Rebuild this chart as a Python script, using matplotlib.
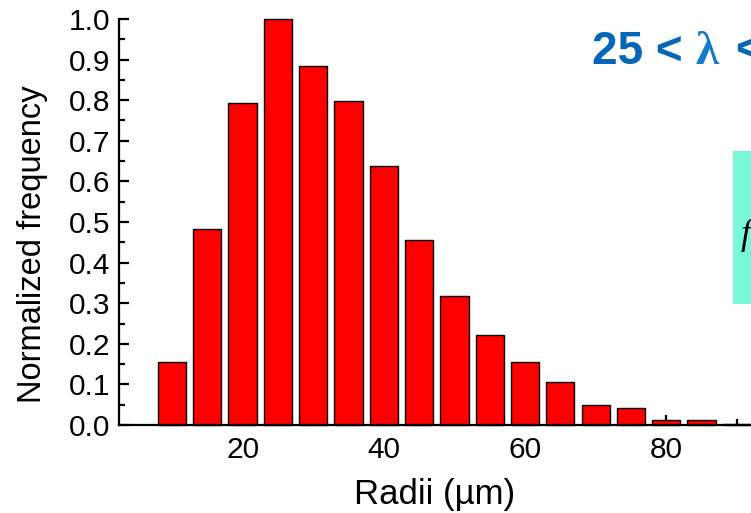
import numpy as np
import matplotlib
matplotlib.use("Agg")
import matplotlib.pyplot as plt
from matplotlib.patches import Rectangle

# histogram of radii, bins every 5 um
radii = [10, 15, 20, 25, 30, 35, 40, 45, 50, 55, 60, 65, 70, 75, 80, 85, 90]
freq = [0.155, 0.483, 0.793, 1.0, 0.884, 0.798, 0.638, 0.456, 0.318,
        0.222, 0.155, 0.106, 0.049, 0.042, 0.012, 0.012, 0.003]
xticks = [20, 40, 60, 80]
yticks = [0.0, 0.1, 0.2, 0.3, 0.4, 0.5, 0.6, 0.7, 0.8, 0.9, 1.0]

plt.rcParams['font.family'] = ['Liberation Sans', 'DejaVu Sans']

W, H = 751, 513
fig = plt.figure(figsize=(W / 100, H / 100), dpi=100)
# axes runs right up to the edge of the (cropped) picture
ax = fig.add_axes([119 / W, 88 / H, (W - 119) / W, 406 / H])

ax.bar(radii, freq, width=4, color='#ff0000', edgecolor='black',
       linewidth=1.0, clip_on=False, zorder=2)

ax.set_xlim(2.5, 92)
ax.set_ylim(0, 1.0)
ax.set_xticks(xticks)
ax.set_xticks([10, 30, 50, 70, 90], minor=True)
ax.set_yticks(yticks)
ax.set_yticklabels([f'{v:.1f}' for v in yticks])
ax.set_yticks(np.arange(0.05, 1.0, 0.1), minor=True)

for s in ['top', 'right']:
    ax.spines[s].set_visible(False)
for s in ['left', 'bottom']:
    ax.spines[s].set_linewidth(1.6)

ax.tick_params(which='major', direction='in', length=7, width=1.6,
               labelsize=21.5)
ax.tick_params(which='minor', direction='in', length=4, width=1.6)
ax.tick_params(axis='x', which='major', pad=8)
ax.tick_params(axis='y', which='major', pad=6)

ax.set_xlabel('Radii (µm)', fontsize=25)
ax.set_ylabel('Normalized frequency', fontsize=23.5)
ax.xaxis.set_label_coords(0.5, -0.13)
ax.yaxis.set_label_coords(-0.113, 0.445)

# title-like annotation, cut off at the right edge
blue = '#0565b8'
fig.text(592 / W, 1 - 64 / H, '25 <', fontsize=33, fontweight='bold',
         color=blue, ha='left', va='baseline')
fig.text(695 / W, 1 - 64 / H, 'λ', fontsize=34, family='Liberation Serif',
         fontweight='bold', color='#1479c6', ha='left', va='baseline')
fig.text(735 / W, 1 - 64 / H, '<', fontsize=33, fontweight='bold',
         color=blue, ha='left', va='baseline')

# inset formula box, mostly outside the crop
fig.patches.append(Rectangle((733 / W, 1 - 304 / H), 60 / W, 153 / H,
                             transform=fig.transFigure, facecolor='#77f8d7',
                             edgecolor='none', zorder=0))
fig.text(741 / W, 1 - 244 / H, 'f', fontsize=26, family='Liberation Serif',
         style='italic', color='black', ha='left', va='baseline')

fig.savefig('out.png', dpi=100)
